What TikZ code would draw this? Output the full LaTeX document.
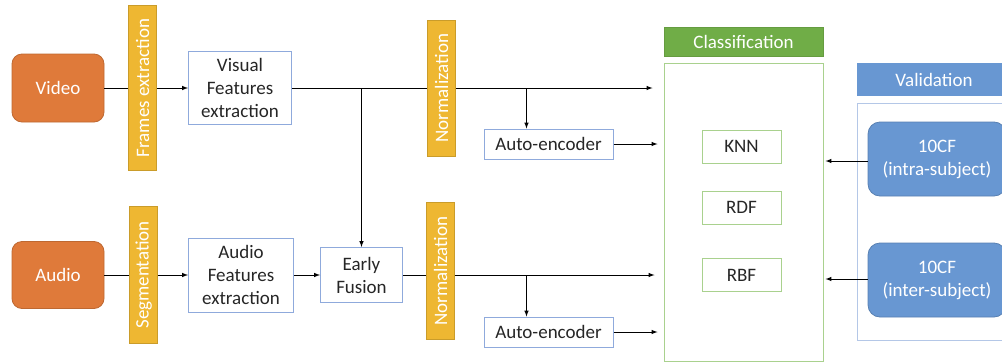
\documentclass[tikz,border=0pt]{standalone}
\usepackage{fontspec}
\setmainfont{Carlito}
\usepackage{graphicx}
\usepackage{tikz}
\usetikzlibrary{shapes,arrows,positioning}
\definecolor{srcorange}{RGB}{223, 122, 58}
\definecolor{stagegold}{RGB}{238, 183, 50}
\definecolor{featblue}{RGB}{143, 170, 220}
\definecolor{clsgreen}{RGB}{112, 173, 71}
\definecolor{clslight}{RGB}{169, 209, 142}
\definecolor{valblue}{RGB}{104, 151, 210}
\definecolor{vallight}{RGB}{180, 199, 231}
\newcommand{\diagfont}{\fontsize{19}{23}\selectfont}
\tikzstyle{source} = [rectangle, rounded corners=10pt, draw=srcorange!85!black, line width=0.8pt, fill=srcorange, text=white, text centered, font=\diagfont, minimum width=92pt, minimum height=68pt]
\tikzstyle{stage} = [rectangle, draw=stagegold!85!black, line width=0.6pt, fill=stagegold, text=white, font=\diagfont, inner sep=0pt, minimum width=28pt]
\tikzstyle{box} = [rectangle, draw=featblue, line width=1pt, fill=white, text=black!85, align=center, font=\diagfont, inner sep=2pt]
\tikzstyle{method} = [rectangle, draw=clslight, line width=1pt, fill=white, text=black!85, align=center, font=\diagfont, minimum width=79pt, minimum height=33pt]
\tikzstyle{header} = [rectangle, text=white, text centered, font=\diagfont]
\tikzstyle{fold} = [rectangle, rounded corners=12pt, draw=valblue!85!black, line width=0.8pt, fill=valblue, text=white, align=center, font=\diagfont, minimum width=138pt, minimum height=74pt]
\tikzstyle{tedge}  = [draw, line width=1pt, >=latex, ->]
\tikzstyle{tline}  = [draw, line width=1pt]

\begin{document}
\begin{tikzpicture}[x=1pt, y=-1pt]
\useasboundingbox (0,0) rectangle (1002,362);

% inputs =============================
\node[source] (video) at (58,88) {Video};
\node[source, minimum height=67pt] (audio) at (58,275) {Audio};

% pre-processing
\node[stage, minimum height=165pt, right=24pt of video] (frames) {\rotatebox{90}{Frames extraction}};
\node[stage, minimum height=137pt, right=25pt of audio] (segment) {\rotatebox{90}{Segmentation}};

% features
\node[box, minimum width=103pt, minimum height=73pt, right=31pt of frames] (visual) {Visual\\Features\\extraction};
\node[box, minimum width=105pt, minimum height=74pt, right=30pt of segment] (audiofeat) {Audio\\Features\\extraction};
\node[box, minimum width=82pt, minimum height=55pt, right=26pt of audiofeat] (fusion) {Early\\Fusion};

% normalization and auto-encoders
\node[stage, minimum height=136pt] (norm1) at (441.5,88) {\rotatebox{90}{Normalization}};
\node[stage, minimum height=137pt] (norm2) at (440.5,271) {\rotatebox{90}{Normalization}};
\node[box, minimum width=129pt, minimum height=30pt] (ae1) at (548.5,144) {Auto-encoder};
\node[box, minimum width=129pt, minimum height=30pt] (ae2) at (548.5,332) {Auto-encoder};

% classification
\node[header, fill=clsgreen, draw=clsgreen!90!black, minimum width=159pt, minimum height=29pt] (clshead) at (743.5,41.5) {Classification};
\node[rectangle, draw=clslight, line width=1pt, minimum width=159pt, minimum height=298pt] (clsframe) at (743.5,212) {};
\node[method] (knn) at (741.5,146.5) {KNN};
\node[method, below=27pt of knn] (rdf) {RDF};
\node[method] (rbf) at (741.5,275) {RBF};

% validation
\node[header, fill=valblue, minimum width=154pt, minimum height=33pt] (valhead) at (934,79.5) {Validation};
\node[rectangle, draw=vallight, line width=1pt, minimum width=155pt, minimum height=237pt] (valframe) at (934.5,221.5) {};
\node[fold] (cf1) at (937,159) {10CF\\(intra-subject)};
\node[fold] (cf2) at (937,280) {10CF\\(inter-subject)};

% free ends
\coordinate (topin) at ([xshift=-11pt]clsframe.west |- visual.east);
\coordinate (botin) at ([xshift=-9pt]clsframe.west |- fusion.east);
\coordinate (tap1) at ([xshift=-22pt]ae1.north |- visual.east);
\coordinate (tap2) at ([xshift=-22pt]ae2.north |- fusion.east);

% edges inputs to features
\path[tline] (video) -- (frames);
\path[tedge] (frames) -- (visual);
\path[tline] (audio) -- (segment);
\path[tedge] (segment) -- (audiofeat);
\path[tedge] (audiofeat) -- (fusion);
\path[tedge] (fusion.north |- visual.east) -- (fusion.north);

% edges features to classification
\path[tline] (visual) -- (norm1);
\path[tedge] (norm1.east |- visual.east) -- (topin);
\path[tedge] (tap1) -- (tap1 |- ae1.north);
\path[tedge] (ae1) -- ([xshift=-6pt]clsframe.west |- ae1.east);

\path[tline] (fusion) -- (norm2.west |- fusion.east);
\path[tedge] (norm2.east |- fusion.east) -- (botin);
\path[tedge] (tap2) -- (tap2 |- ae2.north);
\path[tedge] (ae2) -- ([xshift=-6pt]clsframe.west |- ae2.east);

% edges validation to classification
\path[tedge] ([yshift=-2pt]cf1.west) -- ([xshift=2pt, yshift=-2pt]clsframe.east |- cf1.west);
\path[tedge] ([yshift=1pt]cf2.west) -- ([xshift=2pt, yshift=1pt]clsframe.east |- cf2.west);

\end{tikzpicture}
\end{document}
